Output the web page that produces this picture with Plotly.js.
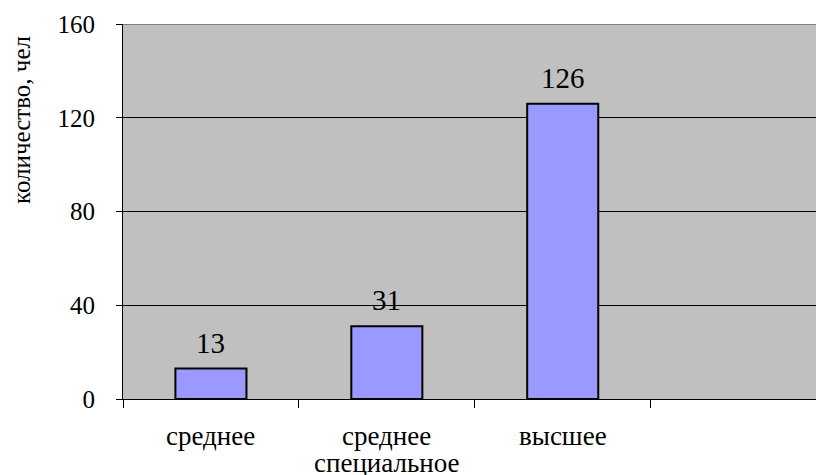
<!DOCTYPE html>
<html>
<head>
<meta charset="utf-8">
<script src="https://cdn.plot.ly/plotly-3.0.1.min.js"></script>
</head>
<body style="margin:0;background:#fff">
<div id="chart"></div>
<script>
// Data
const categories = ["среднее", "среднее специальное", "высшее", ""];
const labelLines = [["среднее"], ["среднее", "специальное"], ["высшее"], []];
const values = [13, 31, 126, null];
const yTicks = [0, 40, 80, 120, 160];
const yTitle = "количество, чел";

const FONT = "Liberation Serif";

const trace = {
  type: "bar",
  x: categories,
  y: values,
  marker: {color: "#9999ff", line: {color: "#000000", width: 2}},
  hoverinfo: "skip"
};

const annotations = [];
// value labels
categories.forEach((c, i) => {
  if (values[i] == null) return;
  annotations.push({
    x: c, y: values[i], xref: "x", yref: "y",
    text: String(values[i]), showarrow: false,
    yanchor: "bottom", yshift: 8,
    font: {family: FONT, size: 29}
  });
});
// category labels (each line separately for tight line spacing)
labelLines.forEach((lines, i) => {
  lines.forEach((t, k) => {
    annotations.push({
      x: categories[i], y: 0, xref: "x", yref: "y",
      text: t, showarrow: false,
      yanchor: "top", yshift: -20 - k * 27,
      font: {family: FONT, size: 27}
    });
  });
});

const W = 816, H = 475, L = 123, R = 0, T = 24, B = 76;
const plotW = W - L - R, plotH = H - T - B;
// y-axis title
annotations.push({
  x: (21 - L) / plotW, y: (H - B - 120) / plotH, xref: "paper", yref: "paper",
  xanchor: "center", yanchor: "middle",
  text: yTitle, showarrow: false, textangle: -90,
  font: {family: FONT, size: 25}
});

const layout = {
  width: W, height: H,
  margin: {l: L, r: R, t: T, b: B, pad: 0},
  paper_bgcolor: "#ffffff",
  plot_bgcolor: "#c0c0c0",
  font: {color: "#000000"},
  bargap: 0.596,
  showlegend: false,
  xaxis: {
    type: "category",
    range: [-0.5, 3.44],
    showticklabels: false,
    ticks: "outside", ticklen: 8, tickwidth: 1, tickcolor: "#000",
    tickson: "boundaries",
    showgrid: false,
    showline: true, linecolor: "#000", linewidth: 1,
    zeroline: false, fixedrange: true
  },
  yaxis: {
    range: [0, 160],
    tickvals: yTicks,
    ticktext: yTicks.map(String),
    ticks: "outside", ticklen: 6, tickwidth: 1, tickcolor: "#000",
    ticklabelstandoff: 16,
    tickfont: {family: FONT, size: 25},
    showgrid: true, gridcolor: "#000", gridwidth: 1,
    showline: true, linecolor: "#000", linewidth: 1,
    zeroline: false, fixedrange: true
  },
  shapes: [{
    type: "line", xref: "paper", yref: "y", x0: 0, x1: 1, y0: 160, y1: 160,
    line: {color: "#808080", width: 2}, layer: "above"
  }],
  annotations: annotations
};

Plotly.newPlot("chart", [trace], layout, {staticPlot: true});
</script>
</body>
</html>
